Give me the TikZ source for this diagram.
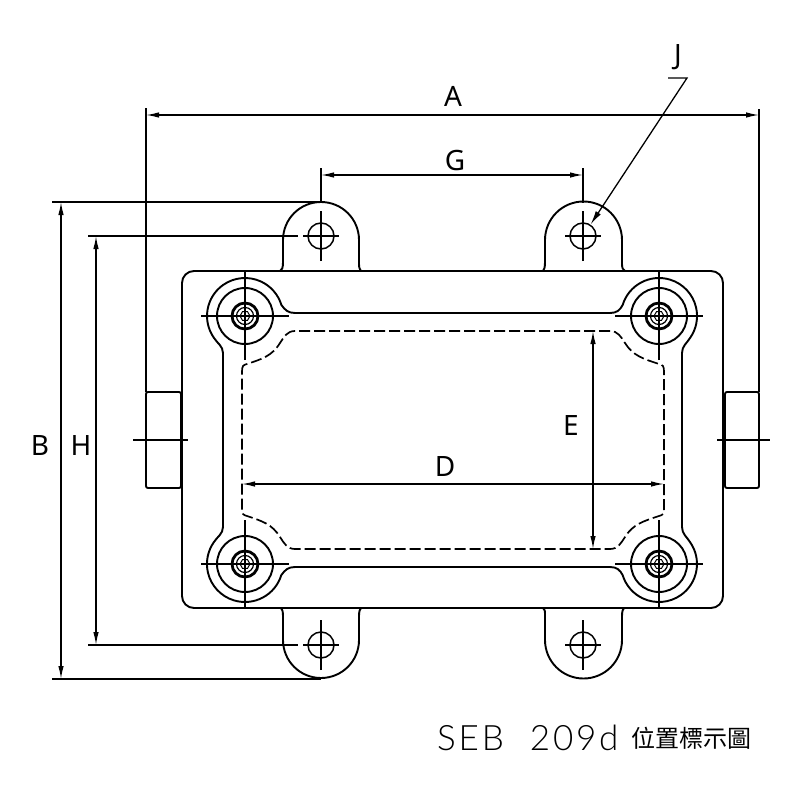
\documentclass[tikz,border=0pt]{standalone}
\usepackage{fontspec}
\setmainfont{Noto Sans}
\newfontfamily\cjkfont{Noto Sans CJK TC}
\newfontfamily\titlefont[LetterSpace=8]{Lato Light}
\usetikzlibrary{arrows.meta,shapes.geometric}

\begin{document}
\begin{tikzpicture}[x=1pt,y=-1pt,
  outline/.style={line width=1.9pt,line join=round},
  hidden line/.style={line width=1.7pt,dash pattern=on 11pt off 4pt},
  thin line/.style={line width=1.3pt},
  dim line/.style={line width=1.3pt,{Latex[length=13pt,width=5.5pt]}-{Latex[length=13pt,width=5.5pt]}},
  leader/.style={line width=1.3pt,-{Latex[length=14pt,width=6pt]}},
  dim label/.style={font=\fontsize{28}{28}\selectfont,inner sep=0pt},
  ring/.style={circle,draw,line width=1.9pt,inner sep=0pt},
  socket/.style={circle,draw,line width=2.8pt,inner sep=0pt,minimum size=26pt},
  hex head/.style={regular polygon,regular polygon sides=6,draw,line width=1pt,inner sep=0pt,minimum size=10pt}]

  \useasboundingbox (0,0) rectangle (800,800);

  % body
  \draw[outline,rounded corners=12pt] (182,271) rectangle (723,608);
  \draw[outline,rounded corners=2pt] (146,392) rectangle (181,488);
  \draw[outline,rounded corners=2pt] (725,392) rectangle (759,488);

  % lugs
  \draw[outline] (280,271) .. controls (282,270) and (283,268) .. (283,262) -- (283,240) arc (180:360:38) -- (359,264) .. controls (359,268) and (360,270) .. (361,271);
  \draw[outline] (543,271) .. controls (544,270) and (545,268) .. (545,262) -- (545,240) arc (180:360:38.5) -- (622,264) .. controls (622,268) and (623,270) .. (625,271);
  \draw[outline] (281,608) .. controls (282,609) and (283,611) .. (283,616) -- (283,640) arc (180:0:38) -- (359,616) .. controls (359,611) and (360,609) .. (361,608);
  \draw[outline] (543,608) .. controls (545,609) and (545,611) .. (545,616) -- (545,640) arc (180:0:38.5) -- (622,616) .. controls (622,611) and (623,609) .. (624,608);

  % inner wall
  \draw[outline] (223,353) .. controls (223,346) and (217,343) .. (213.9,337.8) arc (145:343:38)
    .. controls (285,310) and (288,313) .. (295,313) -- (610,313)
    .. controls (617,313) and (620,310) .. (622.7,304.9) arc (197:395:38)
    .. controls (687,343) and (682,346) .. (682,353) -- (682,527)
    .. controls (682,534) and (687,537) .. (690.1,542.2) arc (325:523:38)
    .. controls (620,570) and (617,567) .. (610,567) -- (295,567)
    .. controls (288,567) and (285,570) .. (281.3,575.1) arc (17:215:38)
    .. controls (217,537) and (223,534) .. (223,527) -- cycle;

  % hidden recess
  \draw[hidden line] (242,372) .. controls (242,366) and (243,365) .. (247,364)
    .. controls (262,359) and (272,356) .. (280,343) .. controls (284,337) and (287,331) .. (295,331)
    -- (610,331) .. controls (618,331) and (621,337) .. (625,343)
    .. controls (633,356) and (644,359) .. (659,364) .. controls (663,365) and (664,366) .. (664,372)
    -- (664,508) .. controls (664,514) and (663,515) .. (659,516)
    .. controls (644,521) and (633,524) .. (625,537) .. controls (621,543) and (618,549) .. (610,549)
    -- (295,549) .. controls (287,549) and (284,543) .. (280,537)
    .. controls (272,524) and (262,521) .. (247,516) .. controls (243,515) and (242,514) .. (242,508) -- cycle;

  % bolts
  \foreach \name/\px/\py in {tl/245/316,tr/659/316,bl/245/564,br/659/564} {
    \node[ring,minimum size=56pt] (bolt \name) at (\px,\py) {};
    \node[socket] (socket \name) at (\px,\py) {};
    \node[ring,line width=1.2pt,minimum size=17pt] (cap \name) at (\px,\py) {};
    \node[hex head] (hex \name) at (\px,\py) {};
    \draw[thin line] ([xshift=-44pt]bolt \name.center) -- ([xshift=44pt]bolt \name.center);
    \draw[thin line] ([yshift=-44pt]bolt \name.center) -- ([yshift=44pt]bolt \name.center);
  }

  % holes
  \foreach \name/\px/\py in {a/321/236,b/583/236,c/321/645,d/583/645} {
    \node[ring,line width=1.5pt,minimum size=26pt] (hole \name) at (\px,\py) {};
    \draw[thin line] ([xshift=-18pt]hole \name.center) -- ([xshift=18pt]hole \name.center);
    \draw[thin line] ([yshift=-25pt]hole \name.center) -- ([yshift=25pt]hole \name.center);
  }

  % dimension A
  \coordinate (a left) at (146,115);
  \coordinate (a right) at (759,115);
  \draw[dim line] (a left) -- (a right);
  \node[dim label] (label a) at (453,96) {A};
  \draw[thin line] (146,108) -- (146,392);
  \draw[thin line] (759,109) -- (759,392);

  % dimension G
  \coordinate (g left) at (321,175);
  \coordinate (g right) at (583,175);
  \draw[dim line] (g left) -- (g right);
  \node[dim label] (label g) at (455,161) {G};
  \draw[thin line] (321,168) -- (321,203);
  \draw[thin line] (583,168) -- (583,203);

  % dimension B
  \coordinate (b top) at (61,202);
  \coordinate (b bottom) at (61,679);
  \draw[dim line] (b top) -- (b bottom);
  \node[dim label] (label b) at (40,445) {B};
  \draw[thin line] (52,202) -- (321,202);
  \draw[thin line] (52,679) -- (321,679);

  % dimension H
  \coordinate (h top) at (96,236);
  \coordinate (h bottom) at (96,645);
  \draw[dim line] (h top) -- (h bottom);
  \node[dim label] (label h) at (81,445) {H};
  \draw[thin line] (88,236) -- (298,236);
  \draw[thin line] (88,645) -- (298,645);

  % dimensions D and E
  \coordinate (d left) at (242,484);
  \coordinate (d right) at (664,484);
  \draw[dim line] (d left) -- (d right);
  \node[dim label] (label d) at (445,466) {D};
  \coordinate (e top) at (593,331);
  \coordinate (e bottom) at (593,549);
  \draw[dim line] (e top) -- (e bottom);
  \node[dim label] (label e) at (571,425) {E};

  % block centre lines
  \draw[thin line] (133,440) -- (188,440);
  \draw[thin line] (717,440) -- (770,440);

  % leader J
  \node[dim label] (label j) at (678,57) {J};
  \coordinate (j start) at (668,78);
  \coordinate (j bend) at (687,78);
  \draw[leader] (j start) -- (j bend) -- (hole b);

  % title
  \node[anchor=base west,inner sep=0pt,font=\fontsize{35}{35}\selectfont\titlefont] (title) at (437,750) {SEB\hspace{26pt}209d};
  \node[anchor=base west,inner sep=0pt,font=\fontsize{24}{24}\selectfont\cjkfont] (caption) at (631,747) {位置標示圖};

\end{tikzpicture}
\end{document}
